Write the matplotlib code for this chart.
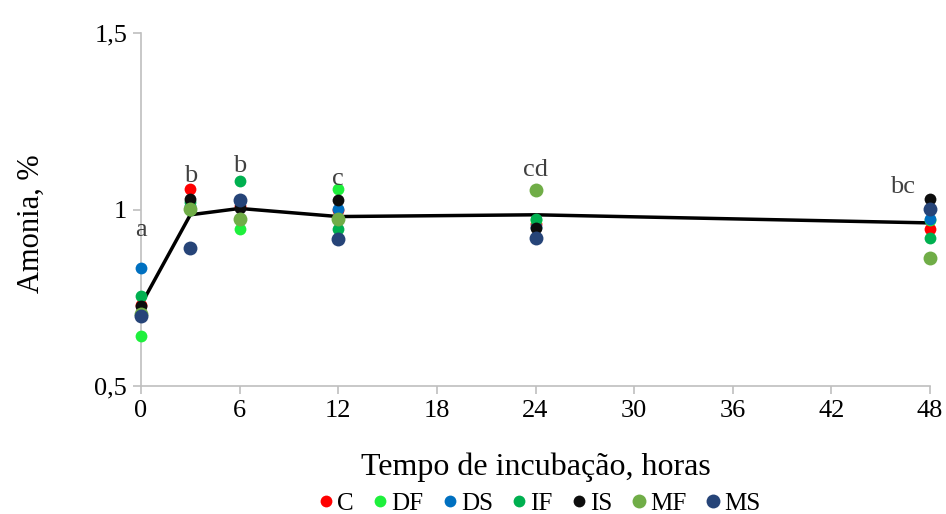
import matplotlib.pyplot as plt

plt.rcParams['font.family'] = ['Liberation Serif', 'DejaVu Serif']

horas = [0, 3, 6, 12, 24, 48]

# Amonia (%) by treatment
C  = [0.730, 1.058, 1.010, 1.000, 0.960, 0.945]
DF = [0.643, 1.000, 0.946, 1.057, 0.970, 0.970]
DS = [0.833, 1.010, 1.020, 1.002, 0.950, 0.972]
IF = [0.754, 1.020, 1.080, 0.946, 0.974, 0.918]
IS = [0.728, 1.030, 1.003, 1.028, 0.948, 1.031]
MF = [0.705, 1.002, 0.974, 0.974, 1.055, 0.863]
MS = [0.698, 0.890, 1.028, 0.917, 0.920, 1.002]

media = [0.730, 0.985, 1.003, 0.980, 0.985, 0.962]
letras = ['a', 'b', 'b', 'c', 'cd', 'bc']
letras_y = [0.924, 1.079, 1.105, 1.068, 1.094, 1.048]
letras_x = [0, 3, 6, 12, 24, 46.35]

series = [('C', C, '#ff0000', 8.5), ('DF', DF, '#1ef03c', 8.5),
          ('DS', DS, '#0070c0', 8.5), ('IF', IF, '#00b050', 8.5),
          ('IS', IS, '#0d0d0d', 8.5), ('MF', MF, '#70ad47', 10),
          ('MS', MS, '#264478', 10)]

fig = plt.figure(figsize=(9.46, 5.14), dpi=100)
ax = fig.add_axes([141/946, 1 - 386/514, (930-141)/946, (386-33)/514])

ax.plot(horas, media, color='black', lw=2.5, zorder=2)
for nome, vals, cor, ms in series:
    ax.plot(horas, vals, 'o', color=cor, ms=ms, label=nome, zorder=3,
            markeredgewidth=0, clip_on=False)

for x, y, t in zip(letras_x, letras_y, letras):
    ax.text(x, y, t, ha='center', va='baseline', fontsize=19, color='#404040')

ax.set_xlim(0, 48)
ax.set_ylim(0.5, 1.5)
ax.set_xticks([0, 6, 12, 18, 24, 30, 36, 42, 48])
ax.set_yticks([0.5, 1, 1.5])
ax.set_yticklabels(['0,5', '1', '1,5'])
ax.tick_params(labelsize=19, color='#bfbfbf', length=6, width=1.2, pad=4)
for s in ['top', 'right']:
    ax.spines[s].set_visible(False)
for s in ['left', 'bottom']:
    ax.spines[s].set_color('#bfbfbf')
    ax.spines[s].set_linewidth(1.2)

ax.set_xlabel('Tempo de incubação, horas', fontsize=23, labelpad=22)
ax.set_ylabel('Amonia, %', fontsize=22)
ax.yaxis.set_label_coords(-0.12, 0.46)

fig.legend(loc='lower center', bbox_to_anchor=(0.57, -0.045), ncol=7,
           frameon=False, fontsize=18, handlelength=0.6, handletextpad=0.15,
           columnspacing=0.75, markerscale=1.0)

fig.savefig('out.png', dpi=100)
